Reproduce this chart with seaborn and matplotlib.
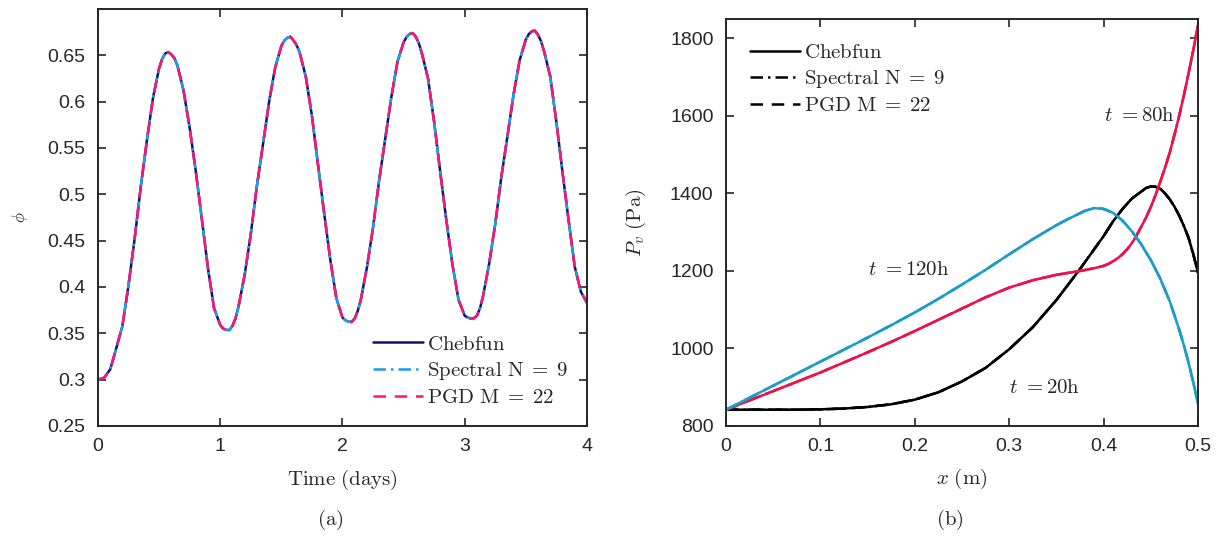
import numpy as np
import pandas as pd
import seaborn as sns
import matplotlib.pyplot as plt

# (a) moisture content phi vs time
days = [0.00, 0.05, 0.10, 0.15, 0.20, 0.25, 0.30, 0.35, 0.40, 0.45,
        0.50, 0.525, 0.55, 0.575, 0.60, 0.625, 0.65, 0.70, 0.75, 0.80, 0.85, 0.90, 0.95,
        1.00, 1.025, 1.05, 1.075, 1.10, 1.125, 1.15, 1.20, 1.25, 1.30, 1.35, 1.40, 1.45,
        1.50, 1.525, 1.55, 1.575, 1.60, 1.625, 1.65, 1.70, 1.75, 1.80, 1.85, 1.90, 1.95,
        2.00, 2.025, 2.05, 2.075, 2.10, 2.125, 2.15, 2.20, 2.25, 2.30, 2.35, 2.40, 2.45,
        2.50, 2.525, 2.55, 2.575, 2.60, 2.625, 2.65, 2.70, 2.75, 2.80, 2.85, 2.90, 2.95,
        3.00, 3.025, 3.05, 3.075, 3.10, 3.125, 3.15, 3.20, 3.25, 3.30, 3.35, 3.40, 3.45,
        3.50, 3.525, 3.55, 3.575, 3.60, 3.625, 3.65, 3.70, 3.75, 3.80, 3.85, 3.90, 3.95,
        4.00]
phi_chebfun = [0.300, 0.302, 0.311, 0.334, 0.358, 0.402, 0.452, 0.508, 0.558, 0.604,
               0.636, 0.646, 0.652, 0.6535, 0.651, 0.647, 0.639, 0.612, 0.572, 0.525, 0.473, 0.420, 0.377,
               0.359, 0.355, 0.3537, 0.3535, 0.358, 0.366, 0.379, 0.413, 0.457, 0.509, 0.554, 0.600, 0.637,
               0.660, 0.666, 0.669, 0.670, 0.666, 0.661, 0.653, 0.627, 0.585, 0.532, 0.480, 0.430, 0.388,
               0.367, 0.364, 0.3625, 0.3623, 0.366, 0.374, 0.386, 0.421, 0.464, 0.515, 0.560, 0.605, 0.643,
               0.664, 0.670, 0.673, 0.674, 0.670, 0.663, 0.652, 0.625, 0.578, 0.524, 0.472, 0.424, 0.386,
               0.369, 0.367, 0.366, 0.3663, 0.369, 0.377, 0.390, 0.425, 0.468, 0.519, 0.563, 0.608, 0.645,
               0.667, 0.673, 0.676, 0.6765, 0.672, 0.665, 0.654, 0.627, 0.578, 0.524, 0.472, 0.422, 0.395,
               0.383]
# the spectral and PGD solutions lie on top of the reference curve
phi_spectral = list(phi_chebfun)
phi_pgd = list(phi_chebfun)

# (b) vapour pressure profiles at three times
x_20h = [0.0, 0.025, 0.05, 0.075, 0.1, 0.125, 0.15, 0.175, 0.2, 0.225, 0.25, 0.275,
         0.3, 0.325, 0.35, 0.375, 0.4, 0.41, 0.42, 0.43, 0.44, 0.445, 0.45, 0.455, 0.46,
         0.465, 0.47, 0.475, 0.48, 0.485, 0.49, 0.495, 0.5]
pv_20h = [842, 842, 842, 842, 843, 845, 849, 856, 868, 887, 915, 950,
          998, 1055, 1125, 1205, 1290, 1328, 1360, 1387, 1405, 1414, 1418, 1417, 1412,
          1400, 1385, 1366, 1343, 1316, 1285, 1243, 1195]

x_80h = [0.0, 0.025, 0.05, 0.075, 0.1, 0.125, 0.15, 0.175, 0.2, 0.225, 0.25, 0.275,
         0.3, 0.325, 0.35, 0.375, 0.39, 0.4, 0.405, 0.41, 0.415, 0.42, 0.425, 0.43, 0.435,
         0.44, 0.445, 0.45, 0.455, 0.46, 0.465, 0.47, 0.475, 0.48, 0.485, 0.49, 0.495, 0.5]
pv_80h = [842, 866, 890, 914, 938, 964, 990, 1017, 1045, 1074, 1103, 1132,
          1157, 1176, 1190, 1200, 1207, 1213, 1218, 1225, 1233, 1243, 1256, 1272, 1292,
          1315, 1338, 1365, 1396, 1430, 1466, 1505, 1551, 1600, 1653, 1710, 1770, 1835]

x_120h = [0.0, 0.025, 0.05, 0.075, 0.1, 0.125, 0.15, 0.175, 0.2, 0.225, 0.25, 0.275,
          0.3, 0.325, 0.35, 0.36, 0.37, 0.38, 0.39, 0.4, 0.41, 0.42, 0.43, 0.44, 0.45, 0.46,
          0.47, 0.48, 0.485, 0.49, 0.495, 0.5]
pv_120h = [842, 873, 904, 935, 966, 997, 1028, 1060, 1093, 1128, 1165, 1203,
           1243, 1282, 1318, 1331, 1343, 1355, 1362, 1360, 1350, 1330, 1302, 1268, 1228, 1180,
           1122, 1049, 1008, 963, 912, 857]

method_names = ['$\\mathrm{Chebfun}$', '$\\mathrm{Spectral\\ N}\\;=\\;9$', '$\\mathrm{PGD\\ M}\\;=\\;22$']
left_colors = ['#12126e', '#1a9ff0', '#ff1470']
time_colors = {'20h': 'black', '80h': '#e8144a', '120h': '#1c9dc9'}

phi_ticks = [0.25, 0.3, 0.35, 0.4, 0.45, 0.5, 0.55, 0.6, 0.65]
phi_ticklabels = ['0.25', '0.3', '0.35', '0.4', '0.45', '0.5', '0.55', '0.6', '0.65']
day_ticks = [0, 1, 2, 3, 4]
x_ticks = [0, 0.1, 0.2, 0.3, 0.4, 0.5]
x_ticklabels = ['0', '0.1', '0.2', '0.3', '0.4', '0.5']
pv_ticks = [800, 1000, 1200, 1400, 1600, 1800]

sns.set_style('ticks')
plt.rcParams['font.family'] = ['Liberation Sans', 'DejaVu Sans']
plt.rcParams['mathtext.fontset'] = 'cm'
plt.rcParams['axes.edgecolor'] = '#262626'
plt.rcParams['axes.linewidth'] = 1.4
plt.rcParams['xtick.color'] = '#262626'
plt.rcParams['ytick.color'] = '#262626'

fig = plt.figure(figsize=(12.2, 5.41), dpi=100)
ax1 = fig.add_axes([0.0803, 0.2126, 0.4008, 0.7708])
ax2 = fig.add_axes([0.5951, 0.2126, 0.3869, 0.7523])

dash_styles = [(None, None), (5, 2, 1, 2), (5, 3.5)]

# left panel
for name, vals, col, ds in zip(method_names, [phi_chebfun, phi_spectral, phi_pgd],
                               left_colors, dash_styles):
    sns.lineplot(x=days, y=vals, ax=ax1, color=col, linewidth=1.8, label=name)
    if ds[0] is not None:
        ax1.lines[-1].set_dashes(ds)

ax1.set_xlim(0, 4)
ax1.set_ylim(0.25, 0.7)
ax1.set_xticks(day_ticks)
ax1.set_yticks(phi_ticks)
ax1.set_yticklabels(phi_ticklabels)
ax1.set_xlabel('$\\mathrm{Time\\ (days)}$', fontsize=15)
ax1.set_ylabel('$\\phi$', fontsize=12)
ax1.yaxis.set_label_coords(-0.14, 0.5)
ax1.xaxis.set_label_coords(0.5, -0.1)
ax1.legend(loc='lower right', frameon=False, fontsize=15, handlelength=2.4,
           handletextpad=0.2, labelspacing=0.3, borderaxespad=0.5)

# right panel: plot the 20h profile first so the legend shows black lines
for key, xs, ys in [('20h', x_20h, pv_20h), ('80h', x_80h, pv_80h), ('120h', x_120h, pv_120h)]:
    for name, ds in zip(method_names, dash_styles):
        lab = name if key == '20h' else None
        sns.lineplot(x=xs, y=ys, ax=ax2, color=time_colors[key], linewidth=1.8, label=lab)
        if ds[0] is not None:
            ax2.lines[-1].set_dashes(ds)

ax2.set_xlim(0, 0.5)
ax2.set_ylim(800, 1850)
ax2.set_xticks(x_ticks)
ax2.set_xticklabels(x_ticklabels)
ax2.set_yticks(pv_ticks)
ax2.set_xlabel('$x\\ (\\mathrm{m})$', fontsize=15)
ax2.set_ylabel('$P_v\\ (\\mathrm{Pa})$', fontsize=15)
ax2.yaxis.set_label_coords(-0.165, 0.5)
ax2.xaxis.set_label_coords(0.5, -0.1)
ax2.legend(loc='upper left', frameon=False, fontsize=15, handlelength=2.4,
           handletextpad=0.2, labelspacing=0.3, borderaxespad=0.75)

ax2.text(0.150, 1203, '$t\\ = 120\\mathrm{h}$', fontsize=15, va='center', ha='left')
ax2.text(0.400, 1600, '$t\\ = 80\\mathrm{h}$', fontsize=15, va='center', ha='left')
ax2.text(0.300, 900, '$t\\ = 20\\mathrm{h}$', fontsize=15, va='center', ha='left')

for ax in (ax1, ax2):
    ax.tick_params(direction='in', top=True, right=True, length=6, width=1.2,
                   labelsize=14, pad=9)
    for sp in ax.spines.values():
        sp.set_visible(True)

fig.text(330 / 1220, 1 - 520 / 541, '$\\mathrm{(a)}$', fontsize=15, ha='center', va='center')
fig.text(950 / 1220, 1 - 520 / 541, '$\\mathrm{(b)}$', fontsize=15, ha='center', va='center')

plt.savefig('out.png', dpi=100)
plt.close()
